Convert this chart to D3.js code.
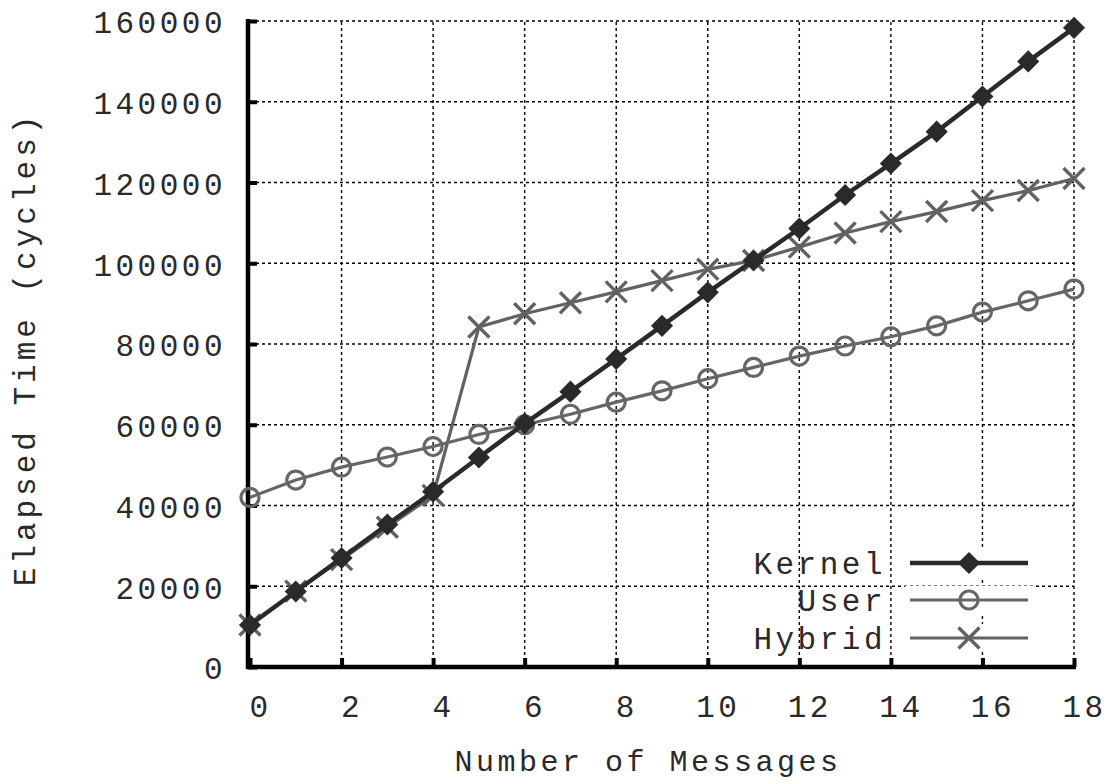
<!DOCTYPE html>
<html><head><meta charset="utf-8">
<script src="https://cdn.jsdelivr.net/npm/d3@7"></script>
<style>body{margin:0;background:#fff}svg{display:block}text{font-family:"Liberation Mono","DejaVu Sans Mono",monospace;fill:#2a2a2a}</style>
</head><body><svg id="c" width="1111" height="784"></svg>
<script>
const messages = [0,1,2,3,4,5,6,7,8,9,10,11,12,13,14,15,16,17,18];
const kernel = [10400,18700,27000,35300,43400,51900,60300,68200,76300,84500,92800,100700,108600,116900,124700,132600,141300,150000,158300];
const user   = [42000,46300,49500,52000,54600,57600,60000,62600,65600,68400,71400,74200,77000,79500,81800,84500,87900,90700,93600];
const hybrid = [10400,18800,26600,34600,42500,84200,87500,90200,92900,95700,98500,100700,104000,107500,110300,112800,115500,118000,121000];
const xTicks = [0,2,4,6,8,10,12,14,16,18];
const yTicks = [0,20000,40000,60000,80000,100000,120000,140000,160000];
const seriesNames = ["Kernel","User","Hybrid"];

const svg = d3.select("#c");
const x = d3.scaleLinear().domain([0,18]).range([250,1074]);
const y = d3.scaleLinear().domain([0,160000]).range([667,21]);
const FS = 31, LS = "3.5px";

// grid
const g = svg.append("g");
g.selectAll(".vg").data(xTicks.filter(d=>d>0)).join("line")
  .attr("x1",d=>x(d)).attr("x2",d=>x(d)).attr("y1",y(0)).attr("y2",y(160000))
  .attr("stroke","#000").attr("stroke-width",1.4).attr("stroke-dasharray","3,3");
g.selectAll(".hg").data(yTicks.filter(d=>d>0)).join("line")
  .attr("x1",x(0)).attr("x2",x(18)).attr("y1",d=>y(d)).attr("y2",d=>y(d))
  .attr("stroke","#000").attr("stroke-width",1.4).attr("stroke-dasharray","3,3");

// axes
const xAxis = d3.axisBottom(x).tickValues(xTicks).tickSize(-9).tickPadding(28).tickFormat(d3.format("d"));
const ax = svg.append("g").attr("transform",`translate(0,${y(0)})`).call(xAxis);
ax.select(".domain").remove();
ax.selectAll(".tick line").attr("stroke","#000").attr("stroke-width",4);
ax.selectAll(".tick text").attr("font-size",FS).attr("dx",10).attr("dy","0.71em").style("letter-spacing",LS);
const yAxis = d3.axisLeft(y).tickValues(yTicks).tickSize(-9).tickPadding(22).tickFormat(d3.format("d"));
const ay = svg.append("g").attr("transform",`translate(${x(0)-2},0)`).call(yAxis);
ay.select(".domain").remove();
ay.selectAll(".tick line").attr("stroke","#000").attr("stroke-width",4);
ay.selectAll(".tick text").attr("font-size",FS).style("letter-spacing",LS).attr("dy","0.38em");
svg.append("line").attr("x1",x(0)-2).attr("x2",x(0)-2).attr("y1",y(160000)-2).attr("y2",y(0)+2).attr("stroke","#000").attr("stroke-width",4.5);
svg.append("line").attr("x1",x(0)-4).attr("x2",x(18)+2).attr("y1",y(0)).attr("y2",y(0)).attr("stroke","#000").attr("stroke-width",4.5);

// labels
svg.append("text").attr("x",648).attr("y",771).attr("text-anchor","middle").attr("font-size",30).style("letter-spacing",LS).text("Number of Messages");
svg.append("text").attr("transform","translate(35,349) rotate(-90)").attr("text-anchor","middle").attr("font-size",FS).style("letter-spacing","4px").text("Elapsed Time (cycles)");

// series
const styles = [
  {name:"Kernel", data:kernel, color:"#2a2a2a", w:4.5, marker:"diamond"},
  {name:"User", data:user, color:"#666", w:3.2, marker:"circle"},
  {name:"Hybrid", data:hybrid, color:"#626262", w:3.2, marker:"x"}
];
const line = d3.line().x((d,i)=>x(messages[i])).y(d=>y(d));

function drawMarker(sel, type, color, cx, cy){
  if(type==="diamond"){
    sel.append("path").attr("d",`M${cx},${cy-10}L${cx+10},${cy}L${cx},${cy+10}L${cx-10},${cy}Z`).attr("fill",color).attr("stroke",color).attr("stroke-width",1.5);
  } else if(type==="circle"){
    sel.append("circle").attr("cx",cx).attr("cy",cy).attr("r",9).attr("fill","none").attr("stroke",color).attr("stroke-width",3.2);
  } else {
    const s=10.5;
    sel.append("path").attr("d",`M${cx-s},${cy-s}L${cx+s},${cy+s}M${cx-s},${cy+s}L${cx+s},${cy-s}`).attr("stroke",color).attr("stroke-width",3.4).attr("fill","none");
  }
}

[styles[2],styles[1],styles[0]].forEach(s=>{
  const gg = svg.append("g");
  gg.append("path").datum(s.data).attr("d",line).attr("fill","none").attr("stroke",s.color).attr("stroke-width",s.w);
  s.data.forEach((v,i)=>drawMarker(gg,s.marker,s.color,x(messages[i]),y(v)));
});

// legend
const legY = [563,600,638];
styles.forEach((s,i)=>{
  const lg = svg.append("g");
  lg.append("rect").attr("x",905).attr("y",legY[i]-14).attr("width",128).attr("height",28).attr("fill","#fff");
  lg.append("text").attr("x",886).attr("y",legY[i]).attr("dy","0.36em").attr("text-anchor","end").attr("font-size",FS).style("letter-spacing",LS).text(seriesNames[i]);
  lg.append("line").attr("x1",910).attr("x2",1028).attr("y1",legY[i]).attr("y2",legY[i]).attr("stroke",s.color).attr("stroke-width",s.w);
  drawMarker(lg,s.marker,s.color,969,legY[i]);
});
</script></body></html>
